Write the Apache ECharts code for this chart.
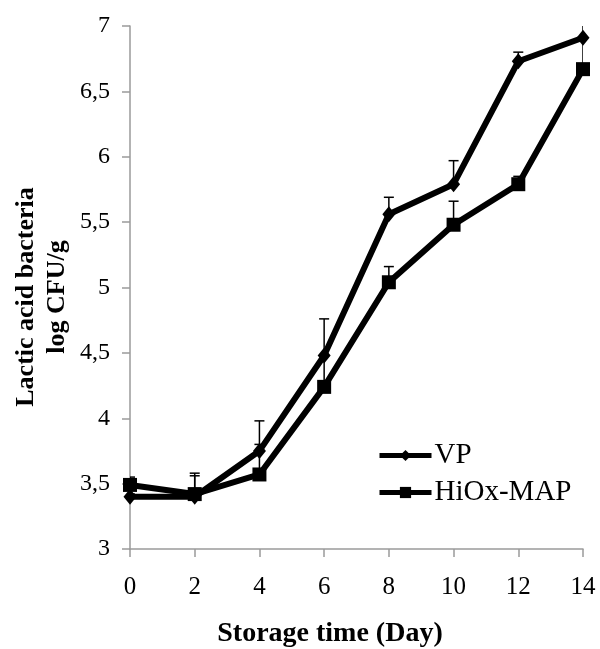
<!DOCTYPE html>
<html>
<head>
<meta charset="utf-8">
<script src="https://cdn.jsdelivr.net/npm/echarts@6/dist/echarts.min.js"></script>
<style>html,body{margin:0;padding:0;background:#fff}#c{width:600px;height:649px}</style>
</head>
<body>
<div id="c"></div>
<script>
const days = [0, 2, 4, 6, 8, 10, 12, 14];
const vpValues = [3.40, 3.40, 3.75, 4.48, 5.56, 5.79, 6.73, 6.91];
const vpErrors = [0.02, 0.18, 0.23, 0.28, 0.13, 0.18, 0.07, 0.10];
const hioxValues = [3.49, 3.42, 3.57, 4.24, 5.04, 5.48, 5.79, 6.67];
const hioxErrors = [0.06, 0.14, 0.23, 0.24, 0.12, 0.18, 0.06, 0.24];
const seriesNames = ['VP', 'HiOx-MAP'];
const yTitleLines = ['Lactic acid bacteria', 'log CFU/g'];
const xTitle = 'Storage time (Day)';

const FONT = '"Liberation Serif", "Times New Roman", serif';
const chart = echarts.init(document.getElementById('c'));

function errData(vals, errs) {
  return days.map((d, i) => [d, vals[i], vals[i] + errs[i]]);
}
function renderErr(params, api) {
  const x = api.value(0);
  const lo = api.coord([x, api.value(1)]);
  const hi = api.coord([x, api.value(2)]);
  const hw = 5;
  const st = { stroke: '#000', lineWidth: 1.5, fill: null };
  return {
    type: 'group',
    children: [
      { type: 'line', shape: { x1: lo[0], y1: lo[1], x2: hi[0], y2: hi[1] }, style: st },
      { type: 'line', shape: { x1: hi[0] - hw, y1: hi[1], x2: hi[0] + hw, y2: hi[1] }, style: st }
    ]
  };
}

const axisGray = '#9a9a9a';
chart.setOption({
  animation: false,
  backgroundColor: '#fff',
  grid: { left: 130, right: 17, top: 26, bottom: 100 },
  xAxis: {
    type: 'value', min: 0, max: 14, interval: 2,
    axisLine: { show: true, lineStyle: { color: axisGray, width: 1.5 } },
    axisTick: { show: true, length: 8, lineStyle: { color: axisGray, width: 1.5 } },
    axisLabel: { color: '#000', fontFamily: FONT, fontSize: 25, margin: 26 },
    splitLine: { show: false }
  },
  yAxis: {
    type: 'value', min: 3, max: 7, interval: 0.5,
    axisLine: { show: true, lineStyle: { color: axisGray, width: 1.5 } },
    axisTick: { show: true, length: 8, lineStyle: { color: axisGray, width: 1.5 } },
    axisLabel: { color: '#000', fontFamily: FONT, fontSize: 24, margin: 20,
      formatter: v => String(v).replace('.', ',') },
    splitLine: { show: false }
  },
  legend: {
    orient: 'vertical', left: 372, top: 436, itemGap: 8,
    itemWidth: 52, itemHeight: 14,
    lineStyle: { width: 5 },
    textStyle: { color: '#000', fontFamily: FONT, fontSize: 29, padding: [0, 0, 0, -2] },
    data: seriesNames
  },
  graphic: [
    { type: 'text', x: 26, y: 297, rotation: Math.PI / 2, originX: 0, originY: 0,
      style: { text: yTitleLines[0], font: 'bold 26px ' + FONT, fill: '#000', textAlign: 'center', textVerticalAlign: 'middle' } },
    { type: 'text', x: 57, y: 297, rotation: Math.PI / 2, originX: 0, originY: 0,
      style: { text: yTitleLines[1], font: 'bold 26px ' + FONT, fill: '#000', textAlign: 'center', textVerticalAlign: 'middle' } },
    { type: 'text', x: 330, y: 634,
      style: { text: xTitle, font: 'bold 28px ' + FONT, fill: '#000', textAlign: 'center', textVerticalAlign: 'middle' } }
  ],
  series: [
    { type: 'custom', name: 'vpErr', renderItem: renderErr, data: errData(vpValues, vpErrors), z: 1, clip: true, encode: { x: 0, y: [1, 2] } },
    { type: 'custom', name: 'hiErr', renderItem: renderErr, data: errData(hioxValues, hioxErrors), z: 1, clip: true, encode: { x: 0, y: [1, 2] } },
    { type: 'line', name: seriesNames[0], data: days.map((d, i) => [d, vpValues[i]]),
      symbol: 'diamond', symbolSize: [13, 16], z: 3,
      lineStyle: { color: '#000', width: 6 }, itemStyle: { color: '#000' } },
    { type: 'line', name: seriesNames[1], data: days.map((d, i) => [d, hioxValues[i]]),
      symbol: 'rect', symbolSize: 14, z: 3,
      lineStyle: { color: '#000', width: 6 }, itemStyle: { color: '#000' } }
  ]
});
</script>
</body>
</html>
